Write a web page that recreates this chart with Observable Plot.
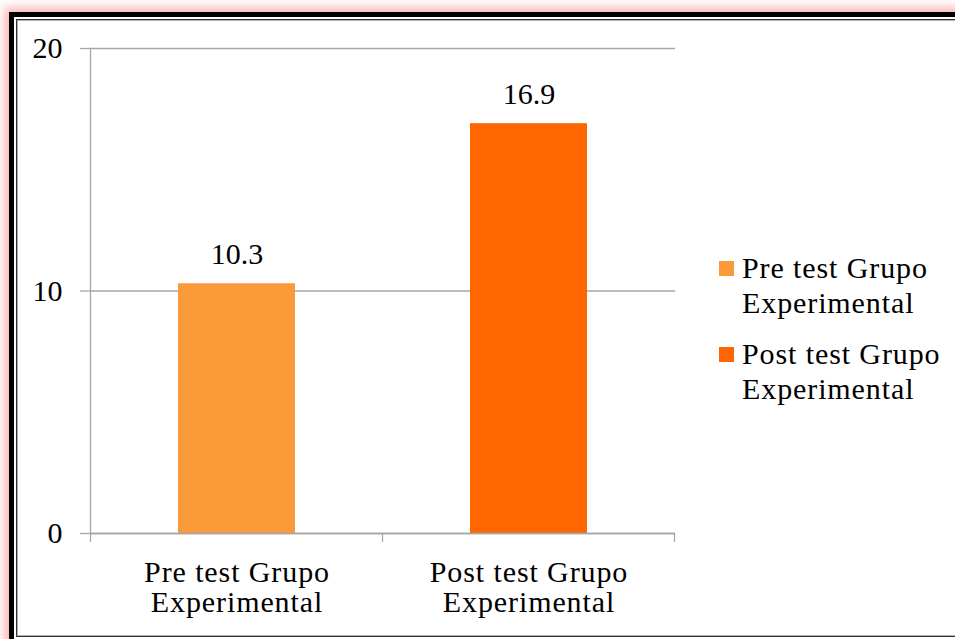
<!DOCTYPE html>
<html>
<head>
<meta charset="utf-8">
<script src="https://cdn.jsdelivr.net/npm/d3@7"></script>
<script src="https://cdn.jsdelivr.net/npm/@observablehq/plot@0.6"></script>
<style>
  html, body { margin:0; padding:0; background:#fff; width:955px; height:639px; overflow:hidden;
    font-family:"Liberation Serif","Times New Roman",serif; }
  #outer { position:absolute; left:9px; top:12px; width:1000px; height:700px; box-sizing:border-box;
    border:5px solid #000; box-shadow:0 0 9px 5px rgba(245,120,120,0.5); }
  #inner { position:absolute; left:16px; top:19px; width:1000px; height:618px; box-sizing:border-box;
    border:1px solid #333; box-shadow: inset 1px 1px 0 #b0b0b0, inset -1px -1px 0 #b0b0b0; }
  #chart { position:absolute; left:0; top:0; }
  #legend { position:absolute; left:719px; top:250px; font-size:30px; color:#000; letter-spacing:0.9px; }
  .item { display:flex; align-items:flex-start; margin-bottom:16px; }
  .sw { width:15px; height:15px; margin-top:11px; margin-right:8px; flex:none; }
  .lab { line-height:35px; }
  .xlab text { letter-spacing:0.9px; }
</style>
</head>
<body>
<div id="outer"></div>
<div id="inner"></div>
<div id="chart"></div>
<div id="legend"></div>
<script>
const categories = ["Pre test Grupo Experimental", "Post test Grupo Experimental"];
const labelLines = [["Pre test Grupo", "Experimental"], ["Post test Grupo", "Experimental"]];
const values = [10.3, 16.9];
const colors = ["#FA9A38", "#FF6600"];
const yTicks = [0, 10, 20];

const data = categories.map((c, i) => ({category: c, value: values[i]}));
const gridColor = "#a6a6a6";

const chart = Plot.plot({
  width: 955, height: 639,
  marginTop: 48, marginBottom: 106, marginLeft: 90, marginRight: 280,
  style: {fontFamily: "'Liberation Serif','Times New Roman',serif", fontSize: "30px", color: "#000", background: "transparent", overflow: "visible"},
  x: {domain: categories, paddingInner: 0.6, paddingOuter: 0.3, label: null},
  y: {domain: [0, 20], ticks: yTicks, label: null},
  color: {domain: categories, range: colors},
  marks: [
    Plot.gridY(yTicks, {stroke: gridColor, strokeOpacity: 1, strokeWidth: 1.3}),
    Plot.axisY(yTicks, {tickSize: 10, tickPadding: 18, stroke: gridColor, strokeOpacity: 1, strokeWidth: 1.3, fontSize: 30, label: null}),
    Plot.frame({anchor: "left", stroke: gridColor, strokeWidth: 1.3}),
    Plot.barY(data, {x: "category", y: "value", fill: "category"}),
    Plot.ruleY([0], {stroke: gridColor, strokeWidth: 1.3}),
    Plot.text(data, {x: "category", y: "value", text: d => d.value.toFixed(1), lineAnchor: "bottom", dy: -20, fontSize: 30}),
    Plot.axisX(categories, {tickSize: 0, tickPadding: 27, lineHeight: 1, fontSize: 30, label: null, className: "xlab",
      tickFormat: d => labelLines[categories.indexOf(d)].join("\n")})
  ]
});
document.getElementById("chart").appendChild(chart);

// category boundary tick marks derived from the band scale
const xs = chart.scale("x"), ys = chart.scale("y");
const gap = (xs.step - xs.bandwidth) / 2;
const bounds = categories.map(c => xs.apply(c) - gap).concat([xs.apply(categories[categories.length - 1]) + xs.bandwidth + gap]);
const y0 = ys.apply(0);
d3.select(chart).append("g")
  .selectAll("line").data(bounds).join("line")
  .attr("x1", d => d).attr("x2", d => d)
  .attr("y1", y0).attr("y2", y0 + 9)
  .attr("stroke", gridColor).attr("stroke-width", 1.3);

// legend
const leg = d3.select("#legend");
categories.forEach((c, i) => {
  const it = leg.append("div").attr("class", "item");
  it.append("div").attr("class", "sw").style("background", colors[i]);
  it.append("div").attr("class", "lab").html(labelLines[i].join("<br>"));
});
</script>
</body>
</html>
